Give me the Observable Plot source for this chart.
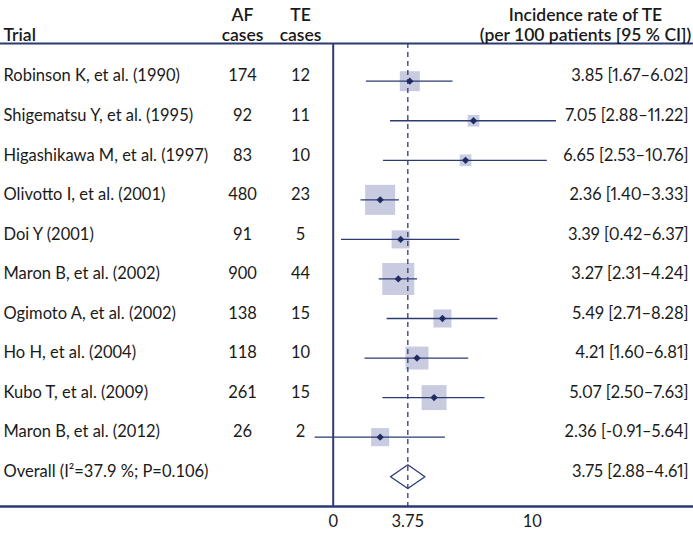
<!DOCTYPE html>
<html>
<head>
<meta charset="utf-8">
<script src="https://cdn.jsdelivr.net/npm/d3@7"></script>
<script src="https://cdn.jsdelivr.net/npm/@observablehq/plot@0.6"></script>
<style>
  html, body { margin: 0; padding: 0; background: white; }
  .ratecol text { font-variant-numeric: proportional-nums; }
</style>
</head>
<body>
<div id="chart"></div>
<script>
// ---- Data ----
const trials = [
  "Robinson K, et al. (1990)",
  "Shigematsu Y, et al. (1995)",
  "Higashikawa M, et al. (1997)",
  "Olivotto I, et al. (2001)",
  "Doi Y (2001)",
  "Maron B, et al. (2002)",
  "Ogimoto A, et al. (2002)",
  "Ho H, et al. (2004)",
  "Kubo T, et al. (2009)",
  "Maron B, et al. (2012)"
];
const afCases = [174, 92, 83, 480, 91, 900, 138, 118, 261, 26];
const teCases = [12, 11, 10, 23, 5, 44, 15, 10, 15, 2];
const estimates = [3.85, 7.05, 6.65, 2.36, 3.39, 3.27, 5.49, 4.21, 5.07, 2.36];
const lower = [1.67, 2.88, 2.53, 1.40, 0.42, 2.31, 2.71, 1.60, 2.50, -0.91];
const upper = [6.02, 11.22, 10.76, 3.33, 6.37, 4.24, 8.28, 6.81, 7.63, 5.64];
// study weights (%)
const weights = [8.5, 2.9, 2.9, 19.1, 6.9, 21.7, 6.9, 11.2, 13.2, 6.9];

const overallLabel = "Overall (I\u00B2=37.9 %; P=0.106)";
const overallEst = 3.75;
const overallLo = 2.88;
const overallHi = 4.61;

const xTicks = [0, 3.75, 10];

const headerTrial = "Trial";
const headerAF = ["AF", "cases"];
const headerTE = ["TE", "cases"];
const headerRight = ["Incidence rate of TE", "(per 100 patients [95 % CI])"];

// ---- Derived tables ----
const fmt = v => v.toFixed(2);
const studies = trials.map((t, i) => ({
  row: i, trial: t, af: afCases[i], te: teCases[i],
  est: estimates[i], lo: lower[i], hi: upper[i], w: weights[i],
  label: `${fmt(estimates[i])} [${fmt(lower[i])}\u2013${fmt(upper[i])}]`
}));
const overallRow = trials.length;
const allRows = [...studies, {
  row: overallRow, trial: overallLabel,
  label: `${fmt(overallEst)} [${fmt(overallLo)}\u2013${fmt(overallHi)}]`
}];
const dh = 0.3; // diamond half-height in row units
const overallDiamond = [
  {x: overallLo, y: overallRow},
  {x: overallEst, y: overallRow - dh},
  {x: overallHi, y: overallRow},
  {x: overallEst, y: overallRow + dh},
  {x: overallLo, y: overallRow}
];

const navy = "#2d3b73";
const dark = "#1f2b63";
const boxFill = "#c9cce0";
const ink = "#1a1a1a";
const fs = 16.5;
const hfs = 17.5;
const colAF = 242, colTE = 300, colRate = 585;
const line1 = -35, line2 = -15;

const hdr = (txt, textAnchor, dx, dy) =>
  Plot.text([txt], {text: d => d, frameAnchor: "top-left", textAnchor, dx, dy,
    fontSize: hfs, fontWeight: 600, fill: ink});

const chart = Plot.plot({
  width: 693,
  height: 534,
  marginTop: 43,
  marginBottom: 28,
  marginLeft: 0,
  marginRight: 0,
  style: {fontFamily: "Lato, sans-serif", fontSize: fs + "px", color: ink, background: "white"},
  x: {domain: [0, 10], range: [332.7, 531.7]},
  y: {domain: [0, 10], range: [80.7, 476.2], axis: null},
  r: {type: "sqrt", domain: [0, 21.7], range: [0, 18.06]},
  marks: [
    Plot.frame({anchor: "top", stroke: navy, strokeWidth: 2}),
    Plot.frame({anchor: "bottom", stroke: navy, strokeWidth: 2.7}),
    Plot.dot(studies, {x: "est", y: "row", r: "w", symbol: "square", fill: boxFill}),
    Plot.line(overallDiamond, {x: "x", y: "y", fill: "white", stroke: navy, strokeWidth: 1.3}),
    Plot.ruleX([0], {stroke: navy, strokeWidth: 2}),
    Plot.ruleX([overallEst], {stroke: navy, strokeWidth: 1.3, strokeDasharray: "5,4"}),
    Plot.ruleY(studies, {x1: "lo", x2: "hi", y: "row", stroke: navy, strokeWidth: 1.3}),
    Plot.dot(studies, {x: "est", y: "row", symbol: "diamond2", r: 3.3, fill: dark}),
    Plot.axisX(xTicks, {anchor: "bottom", tickSize: 0, tickPadding: 9, tickFormat: d => String(d), fontSize: fs, fill: ink, label: null}),
    // table columns
    Plot.text(allRows, {y: "row", text: "trial", frameAnchor: "left", textAnchor: "start", dx: 3, dy: -5, fontSize: fs, fill: ink}),
    Plot.text(studies, {y: "row", text: "af", frameAnchor: "left", textAnchor: "middle", dx: colAF, dy: -5, fontSize: fs, fill: ink}),
    Plot.text(studies, {y: "row", text: "te", frameAnchor: "left", textAnchor: "middle", dx: colTE, dy: -5, fontSize: fs, fill: ink}),
    Plot.text(allRows, {y: "row", text: "label", frameAnchor: "right", textAnchor: "end", dx: -5, dy: -5, fontSize: fs, fill: ink, className: "ratecol"}),
    // headers
    hdr(headerTrial, "start", 3, line2),
    hdr(headerAF[0], "middle", colAF, line1),
    hdr(headerAF[1], "middle", colAF, line2),
    hdr(headerTE[0], "middle", colTE, line1),
    hdr(headerTE[1], "middle", colTE, line2),
    hdr(headerRight[0], "middle", colRate, line1),
    hdr(headerRight[1], "middle", colRate, line2)
  ]
});
document.getElementById("chart").appendChild(chart);
</script>
</body>
</html>
